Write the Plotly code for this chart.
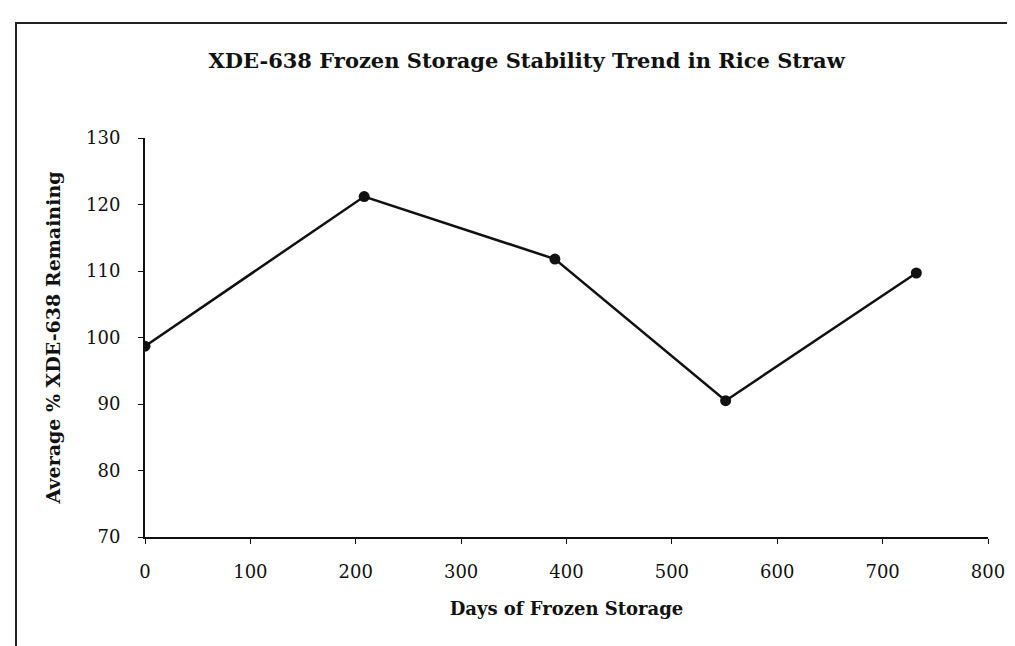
import plotly.graph_objects as go

days = [0, 208, 389, 551, 732]
pct_remaining = [98.7, 121.2, 111.8, 90.5, 109.7]
x_ticks = [0, 100, 200, 300, 400, 500, 600, 700, 800]
y_ticks = [70, 80, 90, 100, 110, 120, 130]

title_text = "XDE-638 Frozen Storage Stability Trend in Rice Straw"
x_title = "Days of Frozen Storage"
y_title = "Average % XDE-638 Remaining"

serif = "DejaVu Serif, Liberation Serif, serif"

fig = go.Figure()
fig.add_trace(go.Scatter(
    x=days, y=pct_remaining, mode="lines+markers",
    line=dict(color="#111111", width=2.5),
    marker=dict(color="#111111", size=11, symbol="circle"),
    showlegend=False,
))

fig.update_layout(
    width=1015, height=646,
    margin=dict(l=137, r=35, t=130, b=117, autoexpand=False),
    paper_bgcolor="white", plot_bgcolor="white",
    title=dict(text="<b>" + title_text + "</b>", x=0.511, xanchor="center",
               y=1 - 53 / 646, yanchor="middle", yref="container",
               font=dict(family=serif, size=21, color="#111111")),
    font=dict(family=serif, color="#111111"),
)

fig.update_xaxes(
    range=[0, 800], tickvals=x_ticks, showgrid=False, zeroline=False,
    showline=True, linecolor="#111111", linewidth=2,
    ticks="outside", ticklen=5, tickcolor="#111111",
    tickfont=dict(family=serif, size=18, color="#111111"),
    ticklabelstandoff=12,
    title=dict(text="<b>" + x_title + "</b>", standoff=22,
               font=dict(family=serif, size=18, color="#111111")),
)
fig.update_yaxes(
    range=[70, 130], tickvals=y_ticks, showgrid=False, zeroline=False,
    showline=True, linecolor="#111111", linewidth=2,
    ticks="outside", ticklen=5, tickcolor="#111111",
    tickfont=dict(family=serif, size=18, color="#111111"),
    ticklabelstandoff=14,
    title=dict(text="<b>" + y_title + "</b>", standoff=20,
               font=dict(family=serif, size=19, color="#111111")),
)

# outer frame of the scanned chart
fig.add_shape(type="rect", xref="paper", yref="paper",
              x0=(8 - 137) / 843, x1=(1030 - 137) / 843,
              y0=(529 - 643) / 399, y1=(529 - 15) / 399,
              line=dict(color="#222222", width=2), fillcolor="rgba(0,0,0,0)")

fig.write_html("out.html")
